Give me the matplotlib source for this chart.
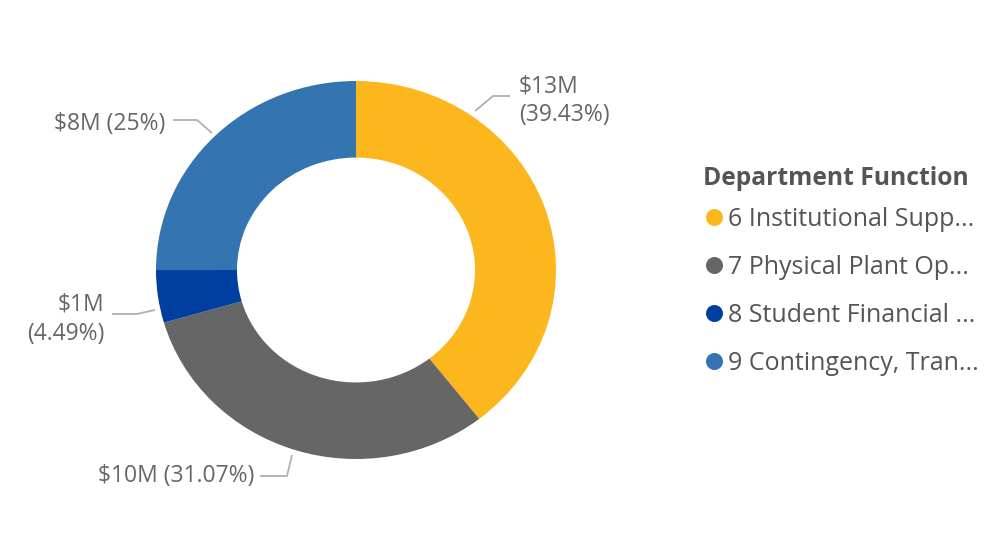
import matplotlib.pyplot as plt

# data
departments = ["6 Institutional Supp...", "7 Physical Plant Op...",
               "8 Student Financial ...", "9 Contingency, Tran..."]
amounts_m = [13, 10, 1, 8]
shares = [39.43, 31.07, 4.49, 25.00]

colors = ["#FDB71E", "#666666", "#003FA0", "#3475B1"]
text_col = "#666666"
plt.rcParams['font.family'] = ['Open Sans', 'DejaVu Sans']

fig = plt.figure(figsize=(9.99, 5.43), dpi=100)

# donut (slightly stretched horizontally, like the original)
ax = fig.add_axes([156 / 999, (543 - 459) / 543, 400 / 999, 378 / 543])
ax.pie(shares, colors=colors, startangle=90, counterclock=False,
       wedgeprops=dict(width=0.405, linewidth=0))
ax.set_aspect('auto')
ax.set_xlim(-1, 1)
ax.set_ylim(-1, 1)

# overlay in pixel coords for labels and legend
ov = fig.add_axes([0, 0, 1, 1])
ov.set_xlim(0, 999)
ov.set_ylim(543, 0)
ov.axis('off')

# label layout: text x, first baseline y, alignment, two lines?, leader points
label_layout = [
    (519, 92, 'left', True, [(475, 111), (493, 96), (510, 96)]),
    (254, 482, 'right', False, [(260, 476), (287, 476), (292, 455)]),
    (104, 311, 'right', True, [(112, 314), (137, 314), (155, 310)]),
    (165, 130, 'right', False, [(173, 120), (197, 120), (212, 133)]),
]
for amt, pct, (tx, ty, ha, two, pts) in zip(amounts_m, shares, label_layout):
    first = f"${amt}M"
    second = f"({pct:g}%)"
    if two:
        lines = [first, second]
    else:
        lines = [first + " " + second]
    for k, line in enumerate(lines):
        ov.text(tx, ty + k * 29, line, ha=ha, va='baseline', fontsize=16.5,
                color=text_col)
    xs, ys = zip(*pts)
    ov.plot(xs, ys, color="#B0B0B0", lw=1.3, solid_capstyle='butt')

# legend
ov.text(703, 185, "Department Function", fontsize=17.7, fontweight='bold',
        color="#555555", va='baseline', ha='left')
for i, (name, c) in enumerate(zip(departments, colors)):
    y = 217 + i * 48
    ov.scatter([714], [y], s=150, color=c, linewidths=0)
    ov.text(728, y + 9, name, fontsize=18, color="#555555", va='baseline', ha='left')

fig.savefig("out.png", dpi=100)
